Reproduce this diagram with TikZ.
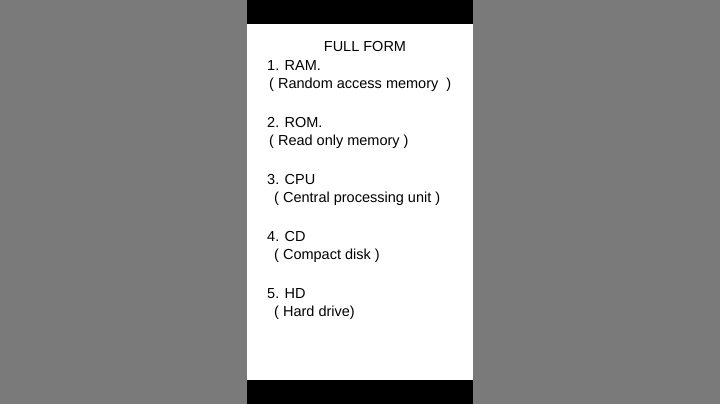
\documentclass[tikz,border=0pt]{standalone}
\usepackage{fontspec}
\setmainfont{Liberation Sans}
\begin{document}
\begin{tikzpicture}[x=1pt,y=-1pt,txt/.style={anchor=west,inner sep=0pt,font=\fontsize{14.5}{16}\selectfont}]
\useasboundingbox (0,0) rectangle (720,404);
\fill[gray!90!black!95] (0,0) rectangle (720,404);
\fill[black] (247,0) rectangle (473,404);
\fill[white] (247,24) rectangle (473,380);
\node[txt,anchor=center] (t) at (365,47) {FULL FORM};
\node[txt] (a1) at (267,66) {1. RAM.};
\node[txt] (b1) at (269,85) {( Random access memory \ )};
\node[txt] (a2) at (267,123) {2. ROM.};
\node[txt] (b2) at (269,142) {( Read only memory )};
\node[txt] (a3) at (267,180) {3. CPU};
\node[txt] (b3) at (274,199) {( Central processing unit )};
\node[txt] (a4) at (267,237) {4. CD};
\node[txt] (b4) at (274,256) {( Compact disk )};
\node[txt] (a5) at (267,294) {5. HD};
\node[txt] (b5) at (274,313) {( Hard drive)};
\end{tikzpicture}
\end{document}
